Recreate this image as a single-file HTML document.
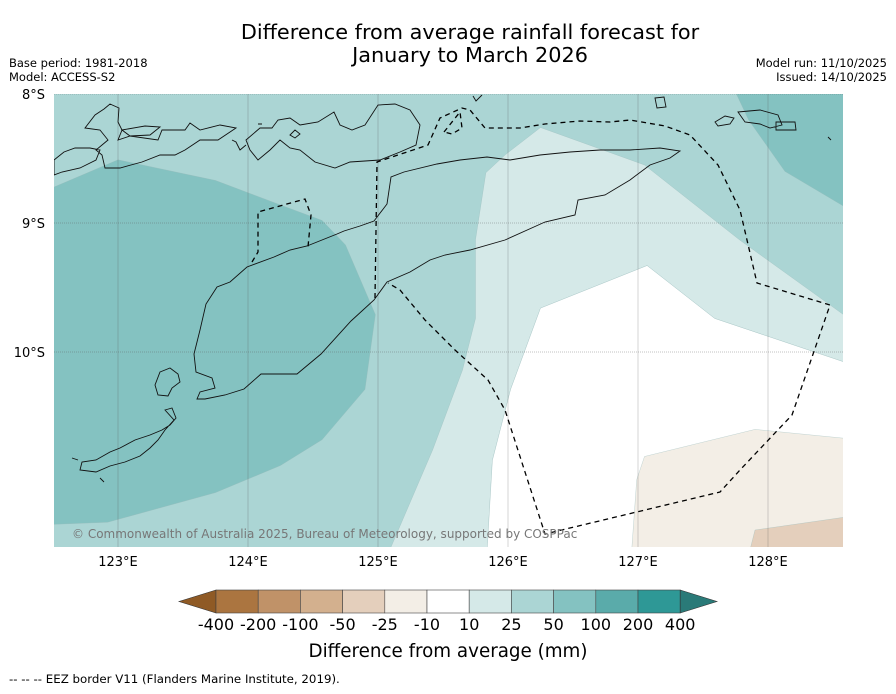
<!DOCTYPE html>
<html><head><meta charset="utf-8"><style>
body{margin:0;background:#fff;font-family:"DejaVu Sans","Liberation Sans",sans-serif;}
svg text{font-family:"DejaVu Sans","Liberation Sans",sans-serif;}
</style></head><body>
<svg id="c" width="896" height="690" viewBox="0 0 896 690" xmlns="http://www.w3.org/2000/svg">
<defs><clipPath id="mc"><rect x="54" y="94" width="789" height="453"/></clipPath></defs>
<text x="470" y="39" font-size="20.8" text-anchor="middle">Difference from average rainfall forecast for</text>
<text x="470" y="62" font-size="20.8" text-anchor="middle">January to March 2026</text>
<text x="9" y="67" font-size="11.5">Base period: 1981-2018</text>
<text x="9" y="81" font-size="11.5">Model: ACCESS-S2</text>
<text x="887" y="67" font-size="11.5" text-anchor="end">Model run: 11/10/2025</text>
<text x="887" y="81" font-size="11.5" text-anchor="end">Issued: 14/10/2025</text>
<g id="map" clip-path="url(#mc)">
<rect x="54" y="94" width="789" height="453" fill="#abd5d4"/>
<g id="contours"></g>
<g id="grid"></g>
<path fill="none" stroke="#111" stroke-width="0.9" d="
M194,354 L200,330 L206,304 L217,287 L230,282 L247,267 L274,257 L290,250 L307,246 L337,234 L344,231 L360,226 L374,221 L387,204 L391,177 L404,172 L437,164 L460,160 L487,157 L510,160 L540,155 L570,152 L600,150 L630,150 L660,148 L680,151 L670,158 L650,165 L630,180 L605,195 L578,200 L575,215 L545,222 L505,240 L470,250 L445,255 L430,260 L410,272 L387,282 L374,300 L351,321 L321,354 L297,374 L261,374 L244,389 L225,395 L205,399 L197,399 L200,392 L215,388 L212,378 L196,372 Z
M104,109 L110,104 L119,108 L118,122 L122,130 L118,140 L130,136 L158,140 L162,130 L185,130 L190,123 L200,130 L220,125 L236,128 L218,140 L200,140 L185,150 L175,155 L160,155 L142,162 L120,168 L105,168 L102,155 L96,150 L108,140 L100,130 L85,128 L95,115 Z
M122,130 L145,126 L160,127 L150,135 L130,136 Z
M246,140 L260,128 L272,128 L278,120 L290,118 L300,125 L318,122 L334,112 L340,125 L352,130 L365,125 L378,105 L395,104 L410,110 L420,125 L416,145 L400,152 L380,160 L350,162 L335,168 L315,162 L300,150 L290,148 L280,140 L270,150 L258,160 L250,150 Z
M258,124 L262,124 M232,140 L236,142 L240,150 L246,145
M290,135 L295,130 L300,134 L295,138 Z
M54,160 L64,152 L75,148 L90,148 L100,150 L96,160 L80,168 L62,172 L54,175 Z
M160,372 L170,368 L178,374 L180,382 L172,388 L168,396 L158,395 L155,385 Z
M165,410 L172,408 L176,418 L170,425 L162,430 L150,435 L135,440 L120,448 L110,452 L96,460 L82,462 L80,470 L96,472 L110,466 L125,462 L140,456 L150,448 L158,440 L165,430 L174,420 Z
M72,458 L78,460 M100,478 L104,482
M655,98 L664,97 L666,107 L657,108 Z
M715,122 L725,116 L734,118 L730,124 L718,126 Z
M738,112 L760,110 L778,115 L782,125 L770,128 L760,124 L745,122 Z
M776,122 L795,122 L796,130 L776,130 Z
M473,96 L476,101 L482,95
M828,137 L831,140
"/>
<path fill="none" stroke="#000" stroke-width="1.3" stroke-dasharray="5,4" d="
M252,262 L258,252 L258,212 L305,199 L311,215 L308,247
M375,298 L377,162 L428,145 L440,118 L462,108 L470,110 L485,128 L520,128 L545,124 L580,121 L610,122 L630,120 L665,126 L690,135 L718,165 L740,210 L757,283 L830,305 L792,415 L740,470 L720,492 L545,534 L505,410 L488,380 L455,350 L425,320 L400,290 L388,283
M444,132 L460,112 L462,128 L452,134 Z"/>
<text x="72" y="538" font-size="12" fill="#777">© Commonwealth of Australia 2025, Bureau of Meteorology, supported by COSPPac</text>
</g>
<g id="axes"></g>
<g id="cbar"></g>
<text x="448" y="657" font-size="18.3" text-anchor="middle">Difference from average (mm)</text>
<text x="9" y="683" font-size="11.8">--  --  -- EEZ border V11 (Flanders Marine Institute, 2019).</text>
</svg>
<script>
const lonTicks=[123,124,125,126,127,128];
const latTicks=[8,9,10];
const cbarLabels=["-400","-200","-100","-50","-25","-10","10","25","50","100","200","400"];
const cbarColors=["#ab7540","#c09268","#d3b08e","#e4cfbc","#f3eee6","#ffffff","#d5e9e8","#abd5d4","#84c2c1","#5aabaa","#2e9896"];
// contour polygons: [lon, lat(S)]
const west50=[[122.4,8.78],[122.51,8.72],[123.0,8.51],[123.75,8.67],[124.25,8.86],[124.57,8.98],[124.75,9.17],[124.98,9.71],[124.9,10.29],[124.57,10.68],[124.25,10.88],[123.75,11.09],[122.92,11.32],[122.4,11.34]];
const ne50=[[127.71,7.9],[128.8,7.9],[128.8,9.0],[128.13,8.6],[127.85,8.2]];
const light10=[[126.25,8.26],[127.05,8.55],[127.78,9.13],[128.58,9.71],[128.8,9.8],[128.8,10.15],[127.59,9.74],[127.07,9.33],[126.25,9.66],[126.02,10.29],[125.88,10.84],[125.83,11.7],[125.02,11.7],[125.42,10.76],[125.65,10.14],[125.75,9.74],[125.75,9.13],[125.83,8.61],[125.98,8.47]];
const white10=[[126.25,9.66],[127.07,9.33],[127.59,9.74],[128.8,10.15],[128.8,11.7],[125.83,11.7],[125.88,10.84],[126.02,10.29]];
const brown25=[[127.05,10.81],[127.9,10.6],[128.8,10.69],[128.8,11.7],[126.94,11.7],[126.99,10.99]];
const brown50=[[127.9,11.38],[128.8,11.25],[128.8,11.7],[127.82,11.7]];
const X=lon=>118+(lon-123)*130, Y=lat=>94+(lat-8)*129;
const NS="http://www.w3.org/2000/svg";
function mk(t,a,p){const e=document.createElementNS(NS,t);for(const k in a)e.setAttribute(k,a[k]);p.appendChild(e);return e;}
const cg=document.getElementById('contours');
[[west50,"#84c2c1","contour-50-100-west"],[ne50,"#84c2c1","contour-50-100-northeast"],[light10,"#d5e9e8","contour-10-25"],[white10,"#ffffff","contour-neutral"],[brown25,"#f3eee6","contour-minus10-minus25"],[brown50,"#e4cfbc","contour-minus25-minus50"]].forEach(([pts,col,nm])=>{
 const p=mk('polygon',{points:pts.map(q=>X(q[0])+','+Y(q[1])).join(' '),fill:col,stroke:"#9bb",'stroke-width':0.3},cg);
 
 
});
const gg=document.getElementById('grid'), ax=document.getElementById('axes');
lonTicks.forEach(l=>{
 const ln=mk('line',{x1:X(l),x2:X(l),y1:94,y2:547,stroke:"#555",'stroke-width':0.5,opacity:0.5},gg);
 
 
 const t=mk('text',{x:X(l),y:566,'font-size':13,'text-anchor':'middle'},ax);t.textContent=l+"°E";
 
 
});
latTicks.forEach(l=>{
 const ln=mk('line',{x1:54,x2:843,y1:Y(l),y2:Y(l),stroke:"#555",'stroke-width':0.5,'stroke-dasharray':"1,1",opacity:0.7},gg);
 
 
 const t=mk('text',{x:45,y:Y(l)+5,'font-size':13,'text-anchor':'end'},ax);t.textContent=l+"°S";
 
 
});
const cb=document.getElementById('cbar');
const x0=216,w=42.2,y0=590,h=23;
const la=mk('polygon',{points:`${x0},${y0} ${x0},${y0+h} 179,${y0+h/2}`,fill:"#8f5a25",stroke:"#333",'stroke-width':0.6},cb);


cbarColors.forEach((c,i)=>{
 const r=mk('rect',{x:x0+i*w,y:y0,width:w,height:h,fill:c,stroke:"#444",'stroke-width':0.6},cb);
 
 
});
const xe=x0+cbarColors.length*w;
const ra=mk('polygon',{points:`${xe},${y0} ${xe},${y0+h} 717,${y0+h/2}`,fill:"#2a7a78",stroke:"#333",'stroke-width':0.6},cb);


cbarLabels.forEach((s,i)=>{
 const t=mk('text',{x:x0+i*w,y:630,'font-size':16,'text-anchor':'middle'},cb);t.textContent=s;
 
 
});
</script>
</body></html>
